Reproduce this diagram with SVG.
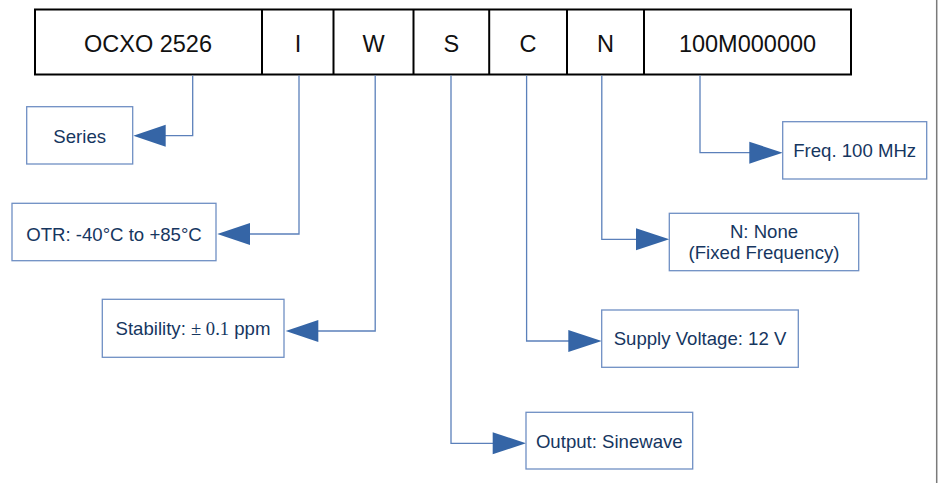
<svg xmlns="http://www.w3.org/2000/svg" width="939" height="483" viewBox="0 0 939 483">
<style>
.cell{fill:#fff;stroke:#000;stroke-width:2}
.ct{font-family:"Liberation Sans",Arial,sans-serif;font-size:23.5px;fill:#111;text-anchor:middle}
.box{fill:#fff;stroke:#6f8fc4;stroke-width:1.3}
.bt{font-family:"Liberation Sans",Arial,sans-serif;font-size:18.6px;fill:#16365f;text-anchor:middle}
.conn{fill:none;stroke:#5b80ba;stroke-width:1.3}
.arr{fill:#3565a6;stroke:none}
</style>
<rect width="939" height="483" fill="#fff"/>
<line x1="936.7" y1="0" x2="936.7" y2="483" stroke="#7a7a7a" stroke-width="1.5"/>
<g id="code-bar">
<rect class="cell" x="35" y="9.5" width="816" height="65"/>
<line x1="262" y1="9.5" x2="262" y2="74.5" stroke="#000" stroke-width="2"/>
<line x1="333.5" y1="9.5" x2="333.5" y2="74.5" stroke="#000" stroke-width="2"/>
<line x1="413.5" y1="9.5" x2="413.5" y2="74.5" stroke="#000" stroke-width="2"/>
<line x1="489.2" y1="9.5" x2="489.2" y2="74.5" stroke="#000" stroke-width="2"/>
<line x1="567" y1="9.5" x2="567" y2="74.5" stroke="#000" stroke-width="2"/>
<line x1="644" y1="9.5" x2="644" y2="74.5" stroke="#000" stroke-width="2"/>
<text class="ct" x="148" y="52">OCXO 2526</text>
<text class="ct" x="298" y="52">I</text>
<text class="ct" x="373.5" y="52">W</text>
<text class="ct" x="451.3" y="52">S</text>
<text class="ct" x="528" y="52">C</text>
<text class="ct" x="605.5" y="52">N</text>
<text class="ct" x="747.5" y="52">100M000000</text>
</g>
<g id="connectors">
<polyline class="conn" points="192.7,75.5 192.7,135.7 160,135.7"/>
<polygon class="arr" points="133.3,135.7 165.7,124.7 165.7,146.7"/>
<polyline class="conn" points="299,75.5 299,234 245,234"/>
<polygon class="arr" points="217.3,234 250,223 250,245"/>
<polyline class="conn" points="375.2,75.5 375.2,331 312,331"/>
<polygon class="arr" points="285.7,331 318.3,320 318.3,342"/>
<polyline class="conn" points="451,75.5 451,443.3 498,443.3"/>
<polygon class="arr" points="526,443.3 492.7,432.3 492.7,454.3"/>
<polyline class="conn" points="526.6,75.5 526.6,341 574,341"/>
<polygon class="arr" points="601.7,341 568.3,330 568.3,352"/>
<polyline class="conn" points="601.8,75.5 601.8,239.3 641,239.3"/>
<polygon class="arr" points="669.3,239.3 636,228.3 636,250.3"/>
<polyline class="conn" points="700,75.5 700,152.7 755,152.7"/>
<polygon class="arr" points="782.7,152.7 749.3,141.7 749.3,163.7"/>
</g>
<g id="series">
<rect class="box" x="26.7" y="106.7" width="106" height="57.3"/>
<text class="bt" x="79.7" y="143">Series</text>
</g>
<g id="otr">
<rect class="box" x="12" y="203.3" width="204" height="57.4"/>
<text class="bt" x="114" y="240.5">OTR: -40°C to +85°C</text>
</g>
<g id="stability">
<rect class="box" x="102.3" y="299.3" width="181.7" height="58"/>
<text class="bt" x="193" y="335">Stability: <tspan font-family="'Liberation Serif','Times New Roman',serif">± 0.1</tspan> ppm</text>
</g>
<g id="output">
<rect class="box" x="526" y="412.3" width="166.7" height="56.7"/>
<text class="bt" x="609.3" y="447.7">Output: Sinewave</text>
</g>
<g id="supply">
<rect class="box" x="601.7" y="310" width="196.6" height="57.3"/>
<text class="bt" x="700" y="345">Supply Voltage: 12 V</text>
</g>
<g id="none">
<rect class="box" x="669.3" y="213.3" width="189.4" height="57.4"/>
<text class="bt" x="764" y="237.5">N: None</text>
<text class="bt" x="764" y="259">(Fixed Frequency)</text>
</g>
<g id="freq">
<rect class="box" x="782.7" y="121.7" width="144" height="57.3"/>
<text class="bt" x="854.7" y="157.3">Freq. 100 MHz</text>
</g>
</svg>
